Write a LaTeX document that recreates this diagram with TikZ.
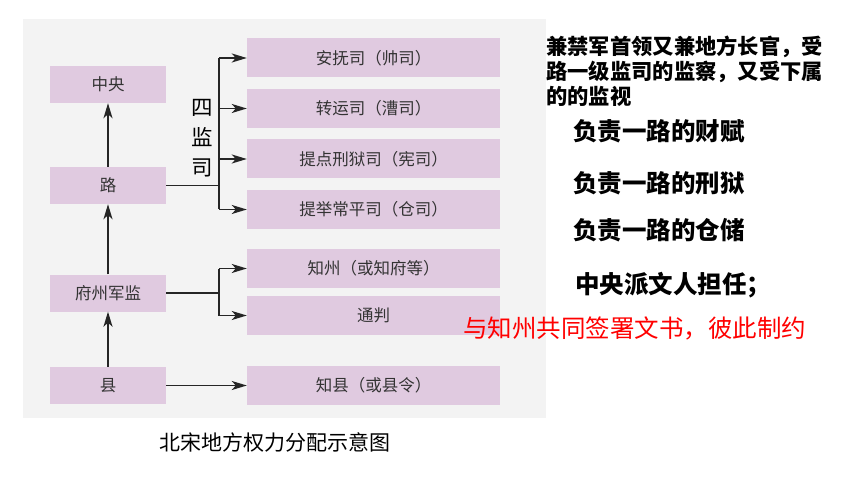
\documentclass[tikz,border=0pt]{standalone}
\usepackage{fontspec}
\setmainfont{Noto Sans CJK SC}
\usetikzlibrary{arrows.meta}
\definecolor{bgray}{HTML}{F3F3F3}
\definecolor{boxpink}{HTML}{E0CAE0}
\definecolor{boxtext}{HTML}{333333}
\definecolor{linec}{HTML}{252525}
\begin{document}
\begin{tikzpicture}[x=1pt,y=-1pt,
  lbox/.style={fill=boxpink, minimum width=116pt, minimum height=37pt, inner sep=0pt, text=boxtext, font=\fontsize{16.5}{18}\selectfont},
  rbox/.style={fill=boxpink, minimum width=253pt, minimum height=39pt, inner sep=0pt, text=boxtext, font=\fontsize{16.5}{18}\selectfont},
  conn/.style={draw=linec, line width=1.8pt},
  arr/.style={conn, -{Stealth[length=15pt,width=9pt,inset=4pt]}},
  note/.style={inner sep=0pt, anchor=west, text=black},
]
\useasboundingbox (0,0) rectangle (860,484);
\fill[bgray] (23,19) rectangle (546,418);

% left column
\node[lbox] (zy) at (108,84.5) {中央};
\node[lbox] (lu) at (108,185.5) {路};
\node[lbox] (fz) at (108,293) {府州军监};
\node[lbox] (xian) at (108,385.5) {县};

% right column
\node[rbox] (af) at (373.5,58) {安抚司（帅司）};
\node[rbox] (zh) at (373.5,108.5) {转运司（漕司）};
\node[rbox] (td) at (373.5,159) {提点刑狱司（宪司）};
\node[rbox] (tj) at (373.5,209.5) {提举常平司（仓司）};
\node[rbox] (zz) at (373.5,268.5) {知州（或知府等）};
\node[rbox] (tp) at (373.5,315.5) {通判};
\node[rbox] (zx) at (373.5,385.5) {知县（或县令）};

% vertical arrows
\draw[arr] (lu.north) -- (zy.south);
\draw[arr] (fz.north) -- (lu.south);
\draw[arr] (xian.north) -- (fz.south);

% 路 -> 四监司
\coordinate (b1) at (219,185.5);
\draw[conn] (lu.east) -- (b1);
\draw[conn] (b1 |- af.west) -- (b1 |- tj.west);
\draw[arr] (b1 |- af.west) -- (af.west);
\draw[arr] (b1 |- zh.west) -- (zh.west);
\draw[arr] (b1 |- td.west) -- (td.west);
\draw[arr] (b1 |- tj.west) -- (tj.west);

% 府州军监 -> 知州, 通判
\coordinate (b2) at (219,293);
\draw[conn] (fz.east) -- (b2);
\draw[conn] (b2 |- zz.west) -- (b2 |- tp.west);
\draw[arr] (b2 |- zz.west) -- (zz.west);
\draw[arr] (b2 |- tp.west) -- (tp.west);

% 县 -> 知县
\draw[arr] (xian.east) -- (zx.west);

% 四监司 label
\node[inner sep=0pt, align=center, font=\fontsize{21.5}{30}\selectfont] (sjs) at (202,138) {四\\监\\司};

% caption
\node[inner sep=0pt, font=\fontsize{21}{24}\selectfont] (cap) at (275,442) {北宋地方权力分配示意图};

% notes
\node[note, align=left, font=\fontsize{21.3}{25}\selectfont\bfseries] (n1) at (546,71.5) {兼禁军首领又兼地方长官，受\\路一级监司的监察，又受下属\\的的监视};
\node[note, font=\fontsize{24.5}{26}\selectfont\bfseries] (n2) at (573,131) {负责一路的财赋};
\node[note, font=\fontsize{24.5}{26}\selectfont\bfseries] (n3) at (573,183) {负责一路的刑狱};
\node[note, font=\fontsize{24.5}{26}\selectfont\bfseries] (n4) at (573,230) {负责一路的仓储};
\node[note, font=\fontsize{24.5}{26}\selectfont\bfseries] (n5) at (575,285) {中央派文人担任；};
\node[note, text=red, font=\fontsize{24.5}{26}\selectfont] (n6) at (463,328) {与知州共同签署文书，彼此制约};
\end{tikzpicture}
\end{document}
